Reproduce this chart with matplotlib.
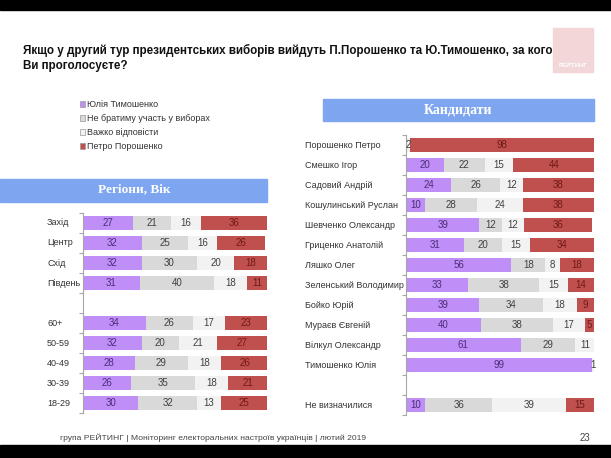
import matplotlib
matplotlib.use("Agg")
import matplotlib.pyplot as plt
from matplotlib.patches import Rectangle
from matplotlib.transforms import blended_transform_factory
import numpy as np

plt.rcParams['font.family'] = ['Liberation Sans', 'DejaVu Sans']

# дані
series = ["Юлія Тимошенко", "Не братиму участь у виборах", "Важко відповісти", "Петро Порошенко"]
colors = ["#C08EF7", "#D9D9D9", "#F2F2F2", "#C0504D"]
label_colors = ["#4A2C7A", "#404040", "#404040", "#6E1A18"]

left_cats = ["Захід", "Центр", "Схід", "Південь", "", "60+", "50-59", "40-49", "30-39", "18-29"]
left_tym = [27, 32, 32, 31, 0, 34, 32, 28, 26, 30]
left_not = [21, 25, 30, 40, 0, 26, 20, 29, 35, 32]
left_hard = [16, 16, 20, 18, 0, 17, 21, 18, 18, 13]
left_por = [36, 26, 18, 11, 0, 23, 27, 26, 21, 25]

right_cats = ["Порошенко Петро", "Смешко Ігор", "Садовий Андрій", "Кошулинський Руслан",
              "Шевченко Олександр", "Гриценко Анатолій", "Ляшко Олег", "Зеленський Володимир",
              "Бойко Юрій", "Мураєв Євгеній", "Вілкул Олександр", "Тимошенко Юлія", "",
              "Не визначилися"]
right_tym = [0, 20, 24, 10, 39, 31, 56, 33, 39, 40, 61, 99, 0, 10]
right_not = [0, 22, 26, 28, 12, 20, 18, 38, 34, 38, 29, 0, 0, 36]
right_hard = [2, 15, 12, 24, 12, 15, 8, 15, 18, 17, 11, 1, 0, 39]
right_por = [98, 44, 38, 38, 36, 34, 18, 14, 9, 5, 0, 0, 0, 15]

W, H = 611, 458
fig = plt.figure(figsize=(W / 100, H / 100), dpi=100)
fig.patch.set_facecolor("white")


def fx(px):
    return px / W


def fy(py):
    return 1 - py / H


def draw_panel(rect, cats, data, label_x):
    ax = fig.add_axes(rect)
    n = len(cats)
    y = np.arange(n)
    left = np.zeros(n)
    for vals, c, lc in zip(data, colors, label_colors):
        vals = np.array(vals, dtype=float)
        ax.barh(y, vals, left=left, height=0.7, color=c, edgecolor="none")
        for yi, v, l0 in zip(y, vals, left):
            if v > 0:
                ax.text(l0 + v / 2, yi, f"{int(v)}", ha="center", va="center",
                        fontsize=7, color=lc)
        left = left + vals
    ax.set_xlim(0, 100)
    ax.set_ylim(n - 0.5, -0.5)
    for s in ["top", "right", "bottom"]:
        ax.spines[s].set_visible(False)
    ax.spines["left"].set_color("#A6A6A6")
    ax.spines["left"].set_linewidth(0.8)
    ax.set_xticks([])
    ax.set_yticks(y)
    ax.set_yticklabels([])
    ax.tick_params(axis="y", which="major", length=0)
    ax.set_yticks(np.arange(n + 1) - 0.5, minor=True)
    ax.tick_params(axis="y", which="minor", length=3, color="#A6A6A6", width=0.8)
    tr = blended_transform_factory(fig.transFigure, ax.transData)
    for yi, name in zip(y, cats):
        ax.text(label_x, yi, name, transform=tr, ha="left", va="center",
                fontsize=6.5, color="#333333")
    return ax


ax_l = draw_panel([fx(83), fy(413), fx(267) - fx(83), fy(213) - fy(413)], left_cats,
                  [left_tym, left_not, left_hard, left_por], fx(47))
ax_r = draw_panel([fx(406), fy(415), fx(594) - fx(406), fy(135) - fy(415)], right_cats,
                  [right_tym, right_not, right_hard, right_por], fx(305))

# чорні смуги
fig.patches.append(Rectangle((0, fy(10)), 1, fy(0) - fy(10), transform=fig.transFigure,
                             color="black", zorder=0))
fig.patches.append(Rectangle((0, 0), 1, fy(445), transform=fig.transFigure,
                             color="black", zorder=0))

# заголовки панелей
fig.patches.append(Rectangle((fx(0), fy(202)), fx(267), fy(179) - fy(202),
                             transform=fig.transFigure, color="#7EA6F0", zorder=0))
fig.text(fx(134), fy(190.5), "Регіони, Вік", ha="center", va="center", color="white",
         fontsize=9.5, fontweight="bold", family=["Liberation Serif", "DejaVu Serif"])
fig.patches.append(Rectangle((fx(323), fy(121)), fx(594) - fx(323), fy(99) - fy(121),
                             transform=fig.transFigure, color="#7EA6F0", zorder=0))
fig.text(fx(458), fy(110), "Кандидати", ha="center", va="center", color="white",
         fontsize=10, fontweight="bold", family=["Liberation Serif", "DejaVu Serif"])

# логотип
fig.patches.append(Rectangle((fx(553), fy(72)), fx(593) - fx(553), fy(28) - fy(72),
                             transform=fig.transFigure, color="#F2D6D8", zorder=0))
fig.text(fx(573), fy(65), "РЕЙТИНГ", ha="center", va="center", color="white",
         fontsize=4.5, fontweight="bold")

# назва
fig.text(fx(23), fy(50), "Якщо у другий тур президентських виборів вийдуть П.Порошенко та Ю.Тимошенко, за кого",
         ha="left", va="center", fontsize=8.4, fontweight="bold", color="#111111")
fig.text(fx(23), fy(66), "Ви проголосуєте?", ha="left", va="center", fontsize=8.4,
         fontweight="bold", color="#111111")

# легенда
handles = [Rectangle((0, 0), 1, 1, facecolor=c, edgecolor="#999999", linewidth=0.5)
           for c in colors]
fig.legend(handles, series, loc="upper left", bbox_to_anchor=(fx(80), fy(100)),
           frameon=False, fontsize=6.5, handlelength=0.6, handleheight=0.6,
           handletextpad=0.2, labelspacing=0.55, borderaxespad=0, borderpad=0,
           labelcolor="#333333")

# підвал
fig.text(fx(60), fy(438), "група РЕЙТИНГ | Моніторинг електоральних настроїв українців | лютий 2019",
         ha="left", va="center", fontsize=6.1, color="#444444")
fig.text(fx(585), fy(438), "23", ha="center", va="center", fontsize=7, color="#444444")

fig.savefig("out.png", dpi=100)
